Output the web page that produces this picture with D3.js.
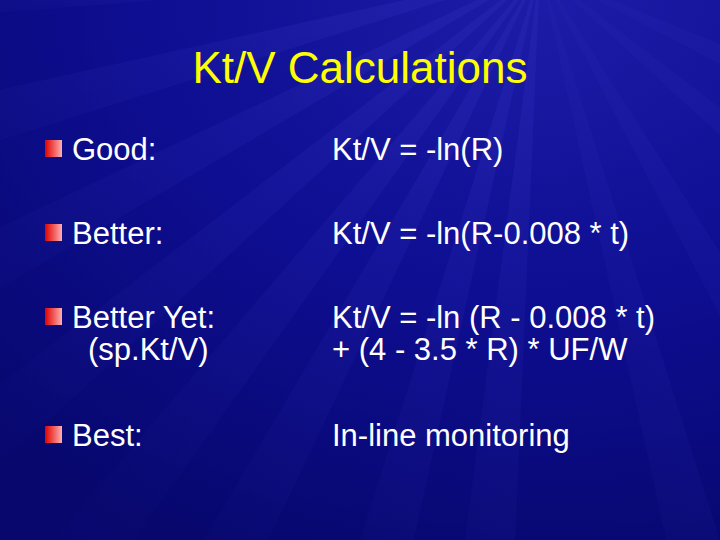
<!DOCTYPE html>
<html><head><meta charset="utf-8">
<script src="https://cdn.jsdelivr.net/npm/d3@7"></script>
<style>body{margin:0;background:#000}</style></head>
<body><svg id="s" width="720" height="540"></svg>
<script>
const title = "Kt/V Calculations";
const labels = ["Good:", "Better:", "Better Yet:", "Best:"];
const subLabels = ["", "", "(sp.Kt/V)", ""];
const formulas = [["Kt/V = -ln(R)"], ["Kt/V = -ln(R-0.008 * t)"], ["Kt/V = -ln (R - 0.008 * t)", "+ (4 - 3.5 * R) * UF/W"], ["In-line monitoring"]];
const rowBaselines = [160, 244, 328, 446];
const rayAngles = [95, 105, 118, 128, 140, 152, 165, 178, 60, 75, 40, 25];

const svg = d3.select("#s");
const defs = svg.append("defs");
const bg = defs.append("radialGradient").attr("id","bg").attr("cx","0.75").attr("cy","0").attr("r","1.1");
bg.append("stop").attr("offset","0").attr("stop-color","#1c1ca8");
bg.append("stop").attr("offset","0.5").attr("stop-color","#0e0e92");
bg.append("stop").attr("offset","1").attr("stop-color","#07076e");
const bl = defs.append("linearGradient").attr("id","bl");
bl.append("stop").attr("offset","0").attr("stop-color","#e00000");
bl.append("stop").attr("offset","1").attr("stop-color","#ffb0b0");
const rg = defs.append("radialGradient").attr("id","ray").attr("cx","0.75").attr("cy","0").attr("r","1");
rg.append("stop").attr("offset","0").attr("stop-color","#6a6aff").attr("stop-opacity",0.1);
rg.append("stop").attr("offset","1").attr("stop-color","#6a6aff").attr("stop-opacity",0);

svg.append("rect").attr("width",720).attr("height",540).attr("fill","url(#bg)");
const cx = 540, cy = -30;
svg.append("g").selectAll("path").data(rayAngles).join("path")
  .attr("d", a => {
    const r = 900, w = 2.5 * Math.PI/180, t = a*Math.PI/180;
    return `M${cx},${cy}L${cx+r*Math.cos(t-w)},${cy+r*Math.sin(t-w)}L${cx+r*Math.cos(t+w)},${cy+r*Math.sin(t+w)}Z`;
  }).attr("fill","url(#ray)");

svg.append("text").attr("x",360).attr("y",83).attr("text-anchor","middle")
  .attr("font-family","Liberation Sans, Arial").attr("font-size",44).attr("fill","#ffff00").text(title);

const y = d3.scaleOrdinal().domain(labels).range(rowBaselines);
const g = svg.append("g").attr("font-family","Liberation Sans, Arial").attr("font-size",31).attr("fill","#fff");
const rows = g.selectAll("g").data(labels).join("g").attr("transform", d => `translate(0,${y(d)})`);
rows.append("rect").attr("x",45).attr("y",-20).attr("width",17).attr("height",17).attr("fill","url(#bl)");
rows.append("text").attr("x",72).text(d => d);
rows.append("text").attr("x",88).attr("y",32).text((d,i) => subLabels[i]);
rows.each(function(d,i){
  d3.select(this).selectAll("text.f").data(formulas[i]).join("text").attr("class","f")
    .attr("x",332).attr("y",(f,j)=>j*32).text(f=>f);
});
</script></body></html>
